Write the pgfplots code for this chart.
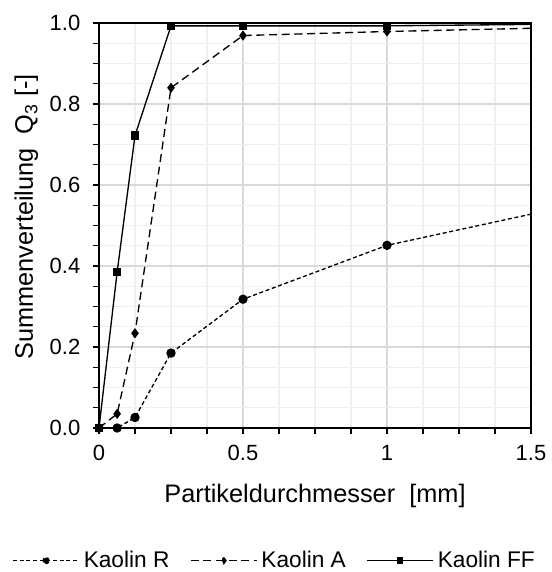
\documentclass[border=0pt]{standalone}
\usepackage{pgfplots}
\pgfplotsset{compat=1.18}
\usepackage{fontspec}
\setmainfont{Liberation Sans}
\begin{document}
\begin{tikzpicture}
\clip (-74.25pt,-108pt) rectangle (339pt,321pt);
\begin{axis}[
  at={(0,0)}, anchor=south west,
  scale only axis, width=324pt, height=303.75pt,
  xmin=0, xmax=1.5, ymin=0, ymax=1,
  xtick={0,0.5,1,1.5}, xticklabels={0,0.5,1,1.5},
  ytick={0,0.2,...,1.0},
  minor x tick num=3, minor y tick num=3,
  /pgf/number format/assume math mode=true,
  tick label style={font=\fontsize{16.5}{19}\selectfont},
  yticklabel style={xshift=-6pt, /pgf/number format/fixed, /pgf/number format/fixed zerofill, /pgf/number format/precision=1},
  xticklabel style={yshift=-5pt},
  label style={font=\fontsize{19}{22}\selectfont},
  tick align=outside, tick pos=left,
  major tick length=4.5pt, minor tick length=4.5pt,
  every tick/.style={black, line width=0.8pt},
  grid=both,
  major grid style={draw=black!15, line width=0.8pt},
  minor grid style={draw=black!6, line width=0.8pt},
  axis line style={line width=1pt},
  xlabel={Partikeldurchmesser~~[mm]},
  ylabel={Summenverteilung~~Q\textsubscript{3} [-]},
  xlabel style={at={(axis description cs:0.5,-0.169)}, anchor=center},
  ylabel style={at={(axis description cs:-0.168,0.521)}, anchor=center},
  legend columns=3,
  legend style={draw=none, fill=none, at={(axis description cs:-0.201,-0.3275)}, anchor=west,
    font=\fontsize{17}{20}\selectfont, inner sep=0pt,
    /tikz/every even column/.append style={column sep=13.5pt},
    /tikz/every odd column/.append style={column sep=1pt}},
  legend cell align=left,
  legend image code/.code={\draw[mark repeat=2,mark phase=2,mark options={scale=0.75}] plot coordinates {(0pt,0pt) (24.75pt,0pt) (49.5pt,0pt)};},
]
\addplot[black, line width=1pt, dash pattern=on 3pt off 2pt, mark=*, mark size=3pt, mark options={solid}]
  coordinates {(0,0) (0.063,0.0) (0.125,0.026) (0.25,0.185) (0.5,0.318) (1,0.451) (2,0.605)};
\addlegendentry{Kaolin R}
\addplot[black, line width=1pt, dash pattern=on 6pt off 3.5pt, mark=diamond*, mark size=3pt, mark options={solid}]
  coordinates {(0,0) (0.063,0.035) (0.125,0.234) (0.25,0.84) (0.5,0.969) (1,0.979) (2,0.995)};
\addlegendentry{Kaolin A}
\addplot[black, line width=1pt, mark=square*, mark size=2.6pt, mark options={solid}]
  coordinates {(0,0) (0.063,0.385) (0.125,0.722) (0.25,0.993) (0.5,0.993) (1,0.993) (2,1.0)};
\addlegendentry{Kaolin FF}
\end{axis}
\end{tikzpicture}
\end{document}
